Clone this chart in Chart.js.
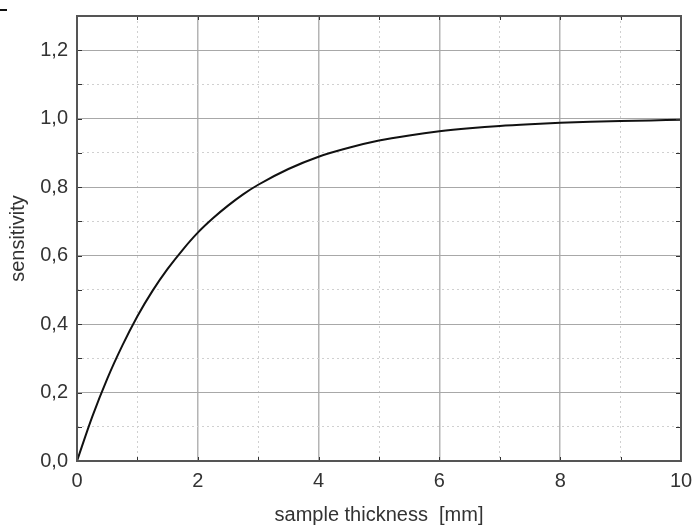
<!DOCTYPE html>
<html>
<head>
<meta charset="utf-8">
<script src="https://cdn.jsdelivr.net/npm/chart.js@4.4.1/dist/chart.umd.min.js"></script>
<style>
  html, body { margin: 0; padding: 0; background: #fff; }
  #wrap { position: relative; width: 694px; height: 527px; }
  #dash { position: absolute; left: 0; top: 9px; width: 7px; height: 2px; background: #111; }
</style>
</head>
<body>
<div id="wrap">
  <canvas id="sensChart" width="694" height="527"></canvas>
  <div id="dash"></div>
</div>
<script>
// data
const thickness = [0, 0.25, 0.5, 0.75, 1, 1.25, 1.5, 1.75, 2, 2.25, 2.5, 2.75, 3, 3.5, 4, 4.5, 5, 5.5, 6, 6.5, 7, 7.5, 8, 8.5, 9, 9.5, 10];
const sensitivity = [0, 0.128, 0.24, 0.337, 0.423, 0.497, 0.561, 0.617, 0.667, 0.709, 0.746, 0.779, 0.807, 0.853, 0.889, 0.915, 0.936, 0.951, 0.963, 0.972, 0.979, 0.984, 0.988, 0.991, 0.993, 0.995, 0.997];
const xTickLabels = ["0", "2", "4", "6", "8", "10"];
const yTickLabels = ["0,0", "0,2", "0,4", "0,6", "0,8", "1,0", "1,2"];

const labelFont = { family: "'Liberation Sans', Arial, sans-serif", size: 20 };

const isMajorX = v => Math.round(v) % 2 === 0;
const isMajorY = v => Math.round(v * 10) % 2 === 0;

// frame + small inward ticks
const framePlugin = {
  id: "frame",
  afterDraw(chart) {
    const { ctx, chartArea: a, scales } = chart;
    ctx.save();
    ctx.strokeStyle = "#333";
    ctx.lineWidth = 1;
    scales.x.ticks.forEach(t => {
      const px = Math.round(scales.x.getPixelForValue(t.value)) + 0.5;
      ctx.beginPath();
      ctx.moveTo(px, a.bottom); ctx.lineTo(px, a.bottom - 4);
      ctx.moveTo(px, a.top); ctx.lineTo(px, a.top + 4);
      ctx.stroke();
    });
    scales.y.ticks.forEach(t => {
      const py = Math.round(scales.y.getPixelForValue(t.value)) + 0.5;
      ctx.beginPath();
      ctx.moveTo(a.left, py); ctx.lineTo(a.left + 5, py);
      ctx.moveTo(a.right, py); ctx.lineTo(a.right - 5, py);
      ctx.stroke();
    });
    ctx.strokeStyle = "#555";
    ctx.lineWidth = 2;
    ctx.strokeRect(a.left, a.top, a.right - a.left, a.bottom - a.top);
    ctx.restore();
  }
};

const ctx = document.getElementById("sensChart").getContext("2d");

new Chart(ctx, {
  type: "line",
  data: {
    labels: thickness,
    datasets: [{
      data: thickness.map((x, i) => ({ x, y: sensitivity[i] })),
      borderColor: "#111",
      borderWidth: 2,
      pointRadius: 0,
      cubicInterpolationMode: "monotone",
      fill: false
    }]
  },
  options: {
    responsive: false,
    animation: false,
    layout: { padding: { left: 0, right: 13, top: 16, bottom: 0 } },
    plugins: { legend: { display: false }, tooltip: { enabled: false } },
    scales: {
      x: {
        type: "linear",
        min: 0,
        max: 10,
        afterFit: s => { s.height = 66; s.paddingLeft = 0; s.paddingRight = 0; },
        ticks: {
          stepSize: 1,
          padding: 8,
          color: "#333",
          font: labelFont,
          maxRotation: 0,
          autoSkip: false,
          callback: v => isMajorX(v) ? xTickLabels[Math.round(v) / 2] : ""
        },
        grid: {
          drawTicks: false,
          color: c => (c.tick && isMajorX(c.tick.value)) ? "#b4b4b4" : "#d0d0d0",
          lineWidth: c => (c.tick && isMajorX(c.tick.value)) ? 1.5 : 1
        },
        border: {
          display: false,
          dash: c => (c.tick && !isMajorX(c.tick.value)) ? [2, 3] : []
        },
        title: {
          display: true,
          text: "sample thickness  [mm]",
          color: "#333",
          font: labelFont,
          padding: { top: 0, bottom: 0 }
        }
      },
      y: {
        min: 0,
        max: 1.3,
        afterFit: s => { s.width = 77; s.paddingTop = 0; s.paddingBottom = 0; },
        ticks: {
          stepSize: 0.1,
          padding: 9,
          color: "#333",
          font: labelFont,
          autoSkip: false,
          callback: v => isMajorY(v) && v < 1.25 ? yTickLabels[Math.round(v * 10) / 2] : ""
        },
        grid: {
          drawTicks: false,
          color: c => (c.tick && isMajorY(c.tick.value)) ? "#a8a8a8" : "#d0d0d0",
          lineWidth: 1
        },
        border: {
          display: false,
          dash: c => (c.tick && !isMajorY(c.tick.value)) ? [2, 3] : []
        },
        title: {
          display: true,
          text: "sensitivity",
          color: "#333",
          font: labelFont,
          padding: { top: 6, bottom: 0 }
        }
      }
    }
  },
  plugins: [framePlugin]
});
</script>
</body>
</html>
